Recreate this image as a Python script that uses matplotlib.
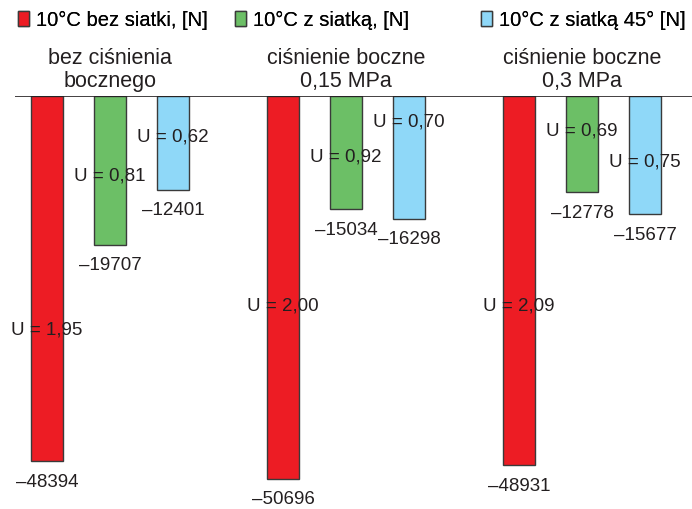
import matplotlib.pyplot as plt
import matplotlib.patches as mpatches
import numpy as np

plt.rcParams['font.family'] = ['Liberation Sans', 'DejaVu Sans']

# dane
grupy = ["bez ciśnienia\nbocznego", "ciśnienie boczne\n0,15 MPa", "ciśnienie boczne\n0,3 MPa"]
serie = ["10°C bez siatki, [N]", "10°C z siatką, [N]", "10°C z siatką 45° [N]"]
kolory = ["#ED1C24", "#6CBF66", "#8FD8F8"]
sila = [
    [-48394, -50696, -48931],   # bez siatki
    [-19707, -15034, -12778],   # z siatka
    [-12401, -16298, -15677],   # z siatka 45
]
wsp_U = [
    [1.95, 2.00, 2.09],
    [0.81, 0.92, 0.69],
    [0.62, 0.70, 0.75],
]
# polozenie napisu U jako ulamek dlugosci slupka
poz_U = [
    [0.64, 0.55, 0.57],
    [0.54, 0.54, 0.36],
    [0.44, 0.21, 0.56],
]

fig = plt.figure(figsize=(6.92, 5.09), dpi=100)
ax = fig.add_axes([15/692, 13/509, 677/692, 400/509])

x = np.arange(len(grupy))
szer = 0.1356
przes = 0.267

for i in range(len(serie)):
    xs = x + (i - 1) * przes
    ax.bar(xs, sila[i], width=szer, color=kolory[i], edgecolor="#3a3a3a", linewidth=1.0, zorder=2)
    for j in range(len(grupy)):
        v = sila[i][j]
        ax.text(xs[j], v * poz_U[i][j], "U = " + f"{wsp_U[i][j]:.2f}".replace(".", ","),
                ha="center", va="center", fontsize=13.5, color="#231f20", zorder=3)
        ax.annotate("\u2013" + str(abs(v)), (xs[j], v), xytext=(0, -15), textcoords="offset points",
                    ha="center", va="center", fontsize=13.5, color="#231f20")

ax.set_xlim(-0.4025, 2.466)
ax.set_ylim(-53000, 0)
ax.axhline(0, color="#231f20", linewidth=1.2, zorder=4)
for s in ax.spines.values():
    s.set_visible(False)
ax.set_xticks([])
ax.set_yticks([])

for j, g in enumerate(grupy):
    ax.text(x[j], 1.065, g, transform=ax.get_xaxis_transform(), ha="center", va="center",
            fontsize=15.5, linespacing=1.1, color="#231f20")

# legenda
leg_x = [18/692, 235/692, 481/692]
for i in range(len(serie)):
    h = mpatches.Patch(facecolor=kolory[i], edgecolor="#3a3a3a", linewidth=1.0)
    lg = fig.legend([h], [serie[i]], loc="center left", bbox_to_anchor=(leg_x[i], 1 - 20/509),
                    frameon=False, fontsize=14.5, handlelength=0.55, handleheight=0.75,
                    handletextpad=0.35, borderpad=0, borderaxespad=0)
    fig.add_artist(lg)

fig.savefig("out.png", dpi=100)
